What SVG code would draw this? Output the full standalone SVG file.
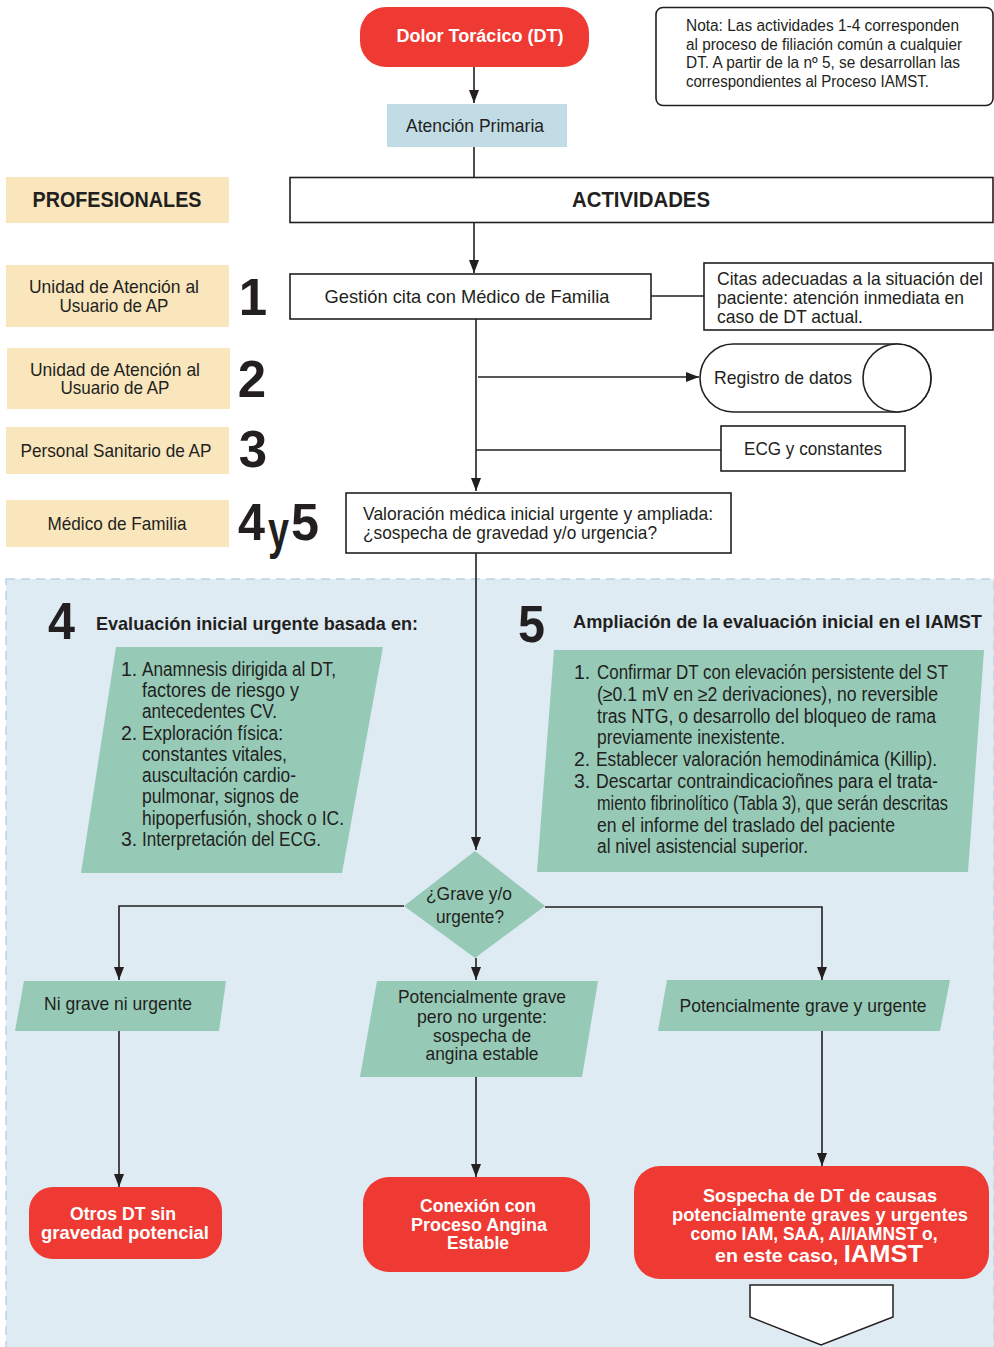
<svg xmlns="http://www.w3.org/2000/svg" width="994" height="1347" viewBox="0 0 994 1347">
<style>
text{font-family:"Liberation Sans Narrow","Liberation Sans",Arial,sans-serif;fill:#231f20}
.t{font-size:19px}
.n{font-size:16px}
.s{font-size:19.5px}
.b{font-weight:bold}
.w{fill:#fff;font-weight:bold;font-size:18.5px}
.num{font-family:"Liberation Sans",Arial,sans-serif;font-weight:bold;font-size:51px}
.hd{font-family:"Liberation Sans",Arial,sans-serif;font-weight:bold;font-size:18.5px}
.box{fill:#fff;stroke:#231f20;stroke-width:1.6}
.prof{fill:#fae6bd}
.red{fill:#ee3a32}
.teal{fill:#96cab7}
.ln{fill:none;stroke:#231f20;stroke-width:1.6}
</style>
<defs>
<marker id="ar2" viewBox="0 0 10 10" refX="10" refY="5" markerWidth="13" markerHeight="10" markerUnits="userSpaceOnUse" orient="auto" preserveAspectRatio="none">
<path d="M0,0 L10,5 L0,10 Z" fill="#231f20"/>
</marker>
</defs>

<rect id="panel" x="6" y="579" width="988" height="770" fill="#deebf3" stroke="#bcd4e4" stroke-width="1.5" stroke-dasharray="9,6"/>

<g id="connectors">
<path class="ln" d="M474,67 V103" marker-end="url(#ar2)"/>
<path class="ln" d="M474,146 V177"/>
<path class="ln" d="M474,223 V273" marker-end="url(#ar2)"/>
<path class="ln" d="M651,296 H704"/>
<path class="ln" d="M476,319 V491" marker-end="url(#ar2)"/>
<path class="ln" d="M478,377 H699" marker-end="url(#ar2)"/>
<path class="ln" d="M476,450 H721"/>
<path class="ln" d="M476,553 V850" marker-end="url(#ar2)"/>
<path class="ln" d="M404,906 H119 V980" marker-end="url(#ar2)"/>
<path class="ln" d="M545,907 H822 V980" marker-end="url(#ar2)"/>
<path class="ln" d="M476,958 V980" marker-end="url(#ar2)"/>
<path class="ln" d="M119,1031 V1187" marker-end="url(#ar2)"/>
<path class="ln" d="M476,1077 V1177" marker-end="url(#ar2)"/>
<path class="ln" d="M822,1031 V1166" marker-end="url(#ar2)"/>
</g>

<g id="dolor">
<rect class="red" x="360" y="7" width="229" height="60" rx="26"/>
<text class="w" x="480" y="42" text-anchor="middle" font-size="20" textLength="167" lengthAdjust="spacingAndGlyphs">Dolor Torácico (DT)</text>
</g>

<g id="atencion">
<rect x="387" y="104" width="180" height="43" fill="#c2dce6"/>
<text class="t" x="475" y="132" text-anchor="middle" textLength="138" lengthAdjust="spacingAndGlyphs">Atención Primaria</text>
</g>

<g id="nota">
<rect class="box" x="656" y="7.5" width="337" height="98" rx="7"/>
<text class="n" x="686" y="31" textLength="273" lengthAdjust="spacingAndGlyphs">Nota: Las actividades 1-4 corresponden</text>
<text class="n" x="686" y="50" textLength="276" lengthAdjust="spacingAndGlyphs">al proceso de filiación común a cualquier</text>
<text class="n" x="686" y="68" textLength="274" lengthAdjust="spacingAndGlyphs">DT. A partir de la nº 5, se desarrollan las</text>
<text class="n" x="686" y="87" textLength="243" lengthAdjust="spacingAndGlyphs">correspondientes al Proceso IAMST.</text>
</g>

<g id="profesionales">
<rect class="prof" x="6" y="177" width="223" height="46"/>
<text class="b" x="117" y="207" text-anchor="middle" font-size="22" font-family="Liberation Sans, Arial, sans-serif" textLength="169" lengthAdjust="spacingAndGlyphs">PROFESIONALES</text>
</g>

<g id="actividades">
<rect class="box" x="290" y="177.5" width="703" height="45" stroke-width="2"/>
<text class="b" x="641" y="207" text-anchor="middle" font-size="22" font-family="Liberation Sans, Arial, sans-serif" textLength="138" lengthAdjust="spacingAndGlyphs">ACTIVIDADES</text>
</g>

<g id="prof1">
<rect class="prof" x="6" y="265" width="223" height="62"/>
<text class="t" x="114" y="293" text-anchor="middle" textLength="170" lengthAdjust="spacingAndGlyphs">Unidad de Atención al</text>
<text class="t" x="114" y="312" text-anchor="middle" textLength="109" lengthAdjust="spacingAndGlyphs">Usuario de AP</text>
<text class="num" x="253" y="315" text-anchor="middle">1</text>
</g>

<g id="prof2">
<rect class="prof" x="7" y="348" width="223" height="61"/>
<text class="t" x="115" y="376" text-anchor="middle" textLength="170" lengthAdjust="spacingAndGlyphs">Unidad de Atención al</text>
<text class="t" x="115" y="394" text-anchor="middle" textLength="109" lengthAdjust="spacingAndGlyphs">Usuario de AP</text>
<text class="num" x="252" y="397" text-anchor="middle">2</text>
</g>

<g id="prof3">
<rect class="prof" x="6" y="427" width="223" height="47"/>
<text class="t" x="116" y="457" text-anchor="middle" textLength="191" lengthAdjust="spacingAndGlyphs">Personal Sanitario de AP</text>
<text class="num" x="253" y="467" text-anchor="middle">3</text>
</g>

<g id="prof4">
<rect class="prof" x="6" y="500" width="223" height="47"/>
<text class="t" x="117" y="530" text-anchor="middle" textLength="139" lengthAdjust="spacingAndGlyphs">Médico de Familia</text>
<text class="num" x="238" y="540" textLength="27" lengthAdjust="spacingAndGlyphs">4</text>
<text class="num" x="268" y="548" font-size="46" textLength="21" lengthAdjust="spacingAndGlyphs">y</text>
<text class="num" x="291" y="540" textLength="28" lengthAdjust="spacingAndGlyphs">5</text>
</g>

<g id="gestion">
<rect class="box" x="290" y="274" width="361" height="45"/>
<text class="t" x="467" y="303" text-anchor="middle" textLength="285" lengthAdjust="spacingAndGlyphs">Gestión cita con Médico de Familia</text>
</g>

<g id="citas">
<rect class="box" x="704" y="263" width="289" height="67"/>
<text class="t" x="717" y="285" textLength="266" lengthAdjust="spacingAndGlyphs">Citas adecuadas a la situación del</text>
<text class="t" x="717" y="304" textLength="247" lengthAdjust="spacingAndGlyphs">paciente: atención inmediata en</text>
<text class="t" x="717" y="323" textLength="146" lengthAdjust="spacingAndGlyphs">caso de DT actual.</text>
</g>

<g id="registro">
<path class="box" d="M733,344 H897 A34,34 0 0 1 897,412 H733 A33,34 0 0 1 733,344 Z"/>
<ellipse class="box" cx="897" cy="378" rx="34" ry="34"/>
<text class="t" x="714" y="384" textLength="138" lengthAdjust="spacingAndGlyphs">Registro de datos</text>
</g>

<g id="ecg">
<rect class="box" x="721" y="426" width="184" height="45"/>
<text class="t" x="813" y="455" text-anchor="middle" textLength="138" lengthAdjust="spacingAndGlyphs">ECG y constantes</text>
</g>

<g id="valoracion">
<rect class="box" x="346" y="493" width="385" height="60"/>
<text class="t" x="363" y="520" textLength="350" lengthAdjust="spacingAndGlyphs">Valoración médica inicial urgente y ampliada:</text>
<text class="t" x="363" y="539" textLength="294" lengthAdjust="spacingAndGlyphs">¿sospecha de gravedad y/o urgencia?</text>
</g>

<g id="sec4">
<text class="num" x="48" y="639" textLength="27" lengthAdjust="spacingAndGlyphs">4</text>
<text class="hd" x="96" y="630" textLength="322" lengthAdjust="spacingAndGlyphs">Evaluación inicial urgente basada en:</text>
<path class="teal" d="M116,647 H383 L342,873 H81 Z"/>
<g class="s">
<text x="121" y="676">1.</text><text x="142" y="676" textLength="194" lengthAdjust="spacingAndGlyphs">Anamnesis dirigida al DT,</text>
<text x="142" y="697" textLength="157" lengthAdjust="spacingAndGlyphs">factores de riesgo y</text>
<text x="142" y="718" textLength="135" lengthAdjust="spacingAndGlyphs">antecedentes CV.</text>
<text x="121" y="740">2.</text><text x="142" y="740" textLength="141" lengthAdjust="spacingAndGlyphs">Exploración física:</text>
<text x="142" y="761" textLength="145" lengthAdjust="spacingAndGlyphs">constantes vitales,</text>
<text x="142" y="782" textLength="154" lengthAdjust="spacingAndGlyphs">auscultación cardio-</text>
<text x="142" y="803" textLength="157" lengthAdjust="spacingAndGlyphs">pulmonar, signos de</text>
<text x="142" y="825" textLength="202" lengthAdjust="spacingAndGlyphs">hipoperfusión, shock o IC.</text>
<text x="121" y="846">3.</text><text x="142" y="846" textLength="179" lengthAdjust="spacingAndGlyphs">Interpretación del ECG.</text>
</g>
</g>

<g id="sec5">
<text class="num" x="518" y="642" textLength="27" lengthAdjust="spacingAndGlyphs">5</text>
<text class="hd" x="573" y="628" textLength="409" lengthAdjust="spacingAndGlyphs">Ampliación de la evaluación inicial en el IAMST</text>
<path class="teal" d="M554,650 H984 L968,872 H537 Z"/>
<g class="s">
<text x="574" y="679">1.</text><text x="597" y="679" textLength="351" lengthAdjust="spacingAndGlyphs">Confirmar DT con elevación persistente del ST</text>
<text x="597" y="701" textLength="341" lengthAdjust="spacingAndGlyphs">(≥0.1 mV en ≥2 derivaciones), no reversible</text>
<text x="597" y="723" textLength="339" lengthAdjust="spacingAndGlyphs">tras NTG, o desarrollo del bloqueo de rama</text>
<text x="597" y="744" textLength="188" lengthAdjust="spacingAndGlyphs">previamente inexistente.</text>
<text x="574" y="766">2.</text><text x="596" y="766" textLength="341" lengthAdjust="spacingAndGlyphs">Establecer valoración hemodinámica (Killip).</text>
<text x="574" y="788">3.</text><text x="596" y="788" textLength="342" lengthAdjust="spacingAndGlyphs">Descartar contraindicacioñnes para el trata-</text>
<text x="597" y="810" textLength="351" lengthAdjust="spacingAndGlyphs">miento fibrinolítico (Tabla 3), que serán descritas</text>
<text x="597" y="832" textLength="298" lengthAdjust="spacingAndGlyphs">en el informe del traslado del paciente</text>
<text x="597" y="853" textLength="211" lengthAdjust="spacingAndGlyphs">al nivel asistencial superior.</text>
</g>
</g>

<g id="decision">
<path class="teal" d="M475,851 L545,906 L475,958 L404,906 Z"/>
<text class="t" x="469" y="900" text-anchor="middle" textLength="86" lengthAdjust="spacingAndGlyphs">¿Grave y/o</text>
<text class="t" x="470" y="923" text-anchor="middle" textLength="68" lengthAdjust="spacingAndGlyphs">urgente?</text>
</g>

<g id="nigrave">
<path class="teal" d="M24,981 H226 L219,1031 H15 Z"/>
<text class="t" x="118" y="1010" text-anchor="middle" textLength="148" lengthAdjust="spacingAndGlyphs">Ni grave ni urgente</text>
</g>

<g id="potencial-estable">
<path class="teal" d="M377,981 H598 L582,1077 H360 Z"/>
<text class="t" x="482" y="1003" text-anchor="middle" textLength="168" lengthAdjust="spacingAndGlyphs">Potencialmente grave</text>
<text class="t" x="482" y="1023" text-anchor="middle" textLength="130" lengthAdjust="spacingAndGlyphs">pero no urgente:</text>
<text class="t" x="482" y="1042" text-anchor="middle" textLength="98" lengthAdjust="spacingAndGlyphs">sospecha de</text>
<text class="t" x="482" y="1060" text-anchor="middle" textLength="113" lengthAdjust="spacingAndGlyphs">angina estable</text>
</g>

<g id="potencial-urgente">
<path class="teal" d="M667,980 H950 L940,1031 H658 Z"/>
<text class="t" x="803" y="1012" text-anchor="middle" textLength="247" lengthAdjust="spacingAndGlyphs">Potencialmente grave y urgente</text>
</g>

<g id="otros">
<rect class="red" x="29" y="1187" width="193" height="72" rx="24"/>
<text class="w" x="123" y="1220" text-anchor="middle" textLength="106" lengthAdjust="spacingAndGlyphs">Otros DT sin</text>
<text class="w" x="125" y="1239" text-anchor="middle" textLength="168" lengthAdjust="spacingAndGlyphs">gravedad potencial</text>
</g>

<g id="conexion">
<rect class="red" x="363" y="1177" width="227" height="95" rx="26"/>
<text class="w" x="478" y="1212" text-anchor="middle" textLength="116" lengthAdjust="spacingAndGlyphs">Conexión con</text>
<text class="w" x="479" y="1231" text-anchor="middle" textLength="136" lengthAdjust="spacingAndGlyphs">Proceso Angina</text>
<text class="w" x="478" y="1249" text-anchor="middle" textLength="62" lengthAdjust="spacingAndGlyphs">Estable</text>
</g>

<g id="sospecha">
<rect class="red" x="634" y="1166" width="355" height="113" rx="26"/>
<text class="w" x="820" y="1202" text-anchor="middle" textLength="234" lengthAdjust="spacingAndGlyphs">Sospecha de DT de causas</text>
<text class="w" x="820" y="1221" text-anchor="middle" textLength="296" lengthAdjust="spacingAndGlyphs">potencialmente graves y urgentes</text>
<text class="w" x="814" y="1240" text-anchor="middle" textLength="247" lengthAdjust="spacingAndGlyphs">como IAM, SAA, AI/IAMNST o,</text>
<text class="w" x="819" y="1262" text-anchor="middle" textLength="208" lengthAdjust="spacingAndGlyphs">en este caso, <tspan font-size="24">IAMST</tspan></text>
</g>

<g id="flecha-final">
<path d="M750,1285 H893 V1317 L821,1345 L750,1317 Z" fill="#fff" stroke="#231f20" stroke-width="1.5"/>
</g>
</svg>
